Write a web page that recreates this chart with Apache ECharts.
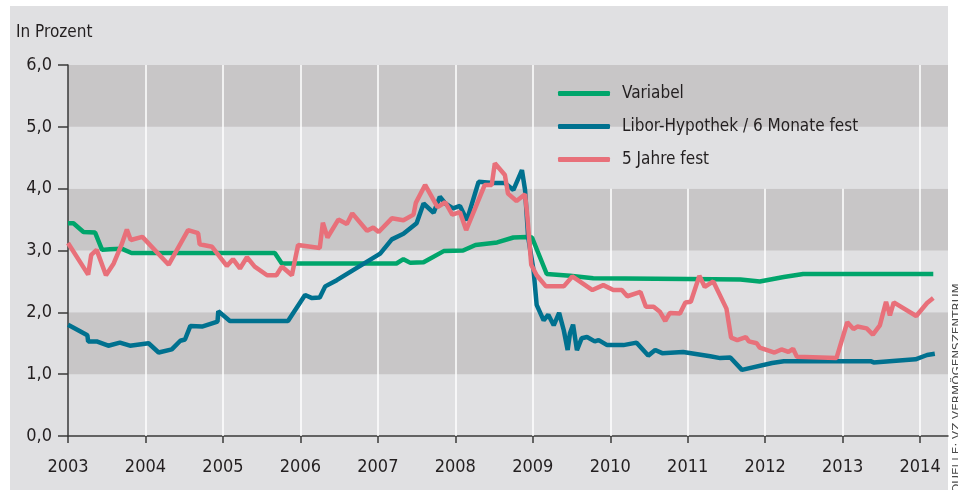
<!DOCTYPE html>
<html>
<head>
<meta charset="utf-8">
<script src="https://cdn.jsdelivr.net/npm/echarts@6/dist/echarts.min.js"></script>
<style>
    html, body { margin: 0; padding: 0; background: #fff; }
    .wrap { position: relative; width: 958px; height: 490px; }
    .panel { position: absolute; left: 10px; top: 6px; width: 938px; height: 484px; background: #e0e0e2; }
    #chart { position: absolute; left: 0; top: 0; width: 958px; height: 490px; }
</style>
</head>
<body>
<div class="wrap">
    <div class="panel"></div>
    <div id="chart"></div>
</div>
<script>
// Jahresachse / Prozentachse
const years = [2003, 2004, 2005, 2006, 2007, 2008, 2009, 2010, 2011, 2012, 2013, 2014]
const yTicks = [0, 1, 2, 3, 4, 5, 6]

// Variabel
const variabelT = [2003.00, 2003.07, 2003.20, 2003.35, 2003.44, 2003.54, 2003.69, 2003.82, 2005.67, 2005.76,
    2007.24, 2007.33, 2007.42, 2007.59, 2007.85, 2008.10, 2008.26, 2008.54, 2008.75, 2008.92,
    2008.99, 2009.18, 2009.48, 2009.78, 2010.99, 2011.68, 2011.93, 2012.24, 2012.49, 2014.17]
const variabelV = [3.44, 3.44, 3.30, 3.29, 3.01, 3.02, 3.03, 2.96, 2.96, 2.79,
    2.79, 2.86, 2.80, 2.81, 2.99, 3.00, 3.09, 3.13, 3.21, 3.22,
    3.21, 2.62, 2.59, 2.55, 2.54, 2.53, 2.50, 2.57, 2.62, 2.62]

// Libor-Hypothek / 6 Monate fest
const liborT = [2003.00, 2003.09, 2003.25, 2003.26, 2003.37, 2003.52, 2003.67, 2003.80, 2004.04, 2004.17,
    2004.34, 2004.45, 2004.51, 2004.58, 2004.73, 2004.93, 2004.94, 2005.09, 2005.84, 2006.06,
    2006.15, 2006.25, 2006.32, 2006.47, 2007.03, 2007.18, 2007.33, 2007.50, 2007.59, 2007.72,
    2007.80, 2007.87, 2007.97, 2008.06, 2008.15, 2008.30, 2008.49, 2008.64, 2008.75, 2008.86,
    2008.90, 2008.94, 2009.01, 2009.05, 2009.14, 2009.20, 2009.27, 2009.34, 2009.40, 2009.45,
    2009.48, 2009.52, 2009.57, 2009.63, 2009.70, 2009.80, 2009.85, 2009.96, 2010.17, 2010.34,
    2010.49, 2010.58, 2010.67, 2010.94, 2011.29, 2011.42, 2011.55, 2011.70, 2012.09, 2012.24,
    2013.36, 2013.40, 2013.94, 2014.09, 2014.19]
const liborV = [1.80, 1.74, 1.63, 1.53, 1.53, 1.46, 1.51, 1.46, 1.50, 1.35,
    1.40, 1.54, 1.56, 1.78, 1.77, 1.85, 2.02, 1.86, 1.86, 2.28,
    2.23, 2.24, 2.42, 2.52, 2.95, 3.18, 3.27, 3.44, 3.76, 3.61,
    3.87, 3.76, 3.68, 3.72, 3.49, 4.11, 4.09, 4.09, 3.98, 4.30,
    3.98, 3.22, 2.68, 2.12, 1.87, 1.96, 1.79, 1.99, 1.71, 1.39,
    1.66, 1.80, 1.39, 1.58, 1.60, 1.53, 1.55, 1.47, 1.47, 1.51,
    1.30, 1.39, 1.34, 1.36, 1.29, 1.26, 1.27, 1.07, 1.18, 1.21,
    1.21, 1.19, 1.24, 1.31, 1.33]

// 5 Jahre fest
const festT = [2003.00, 2003.26, 2003.30, 2003.37, 2003.49, 2003.59, 2003.69, 2003.76, 2003.81, 2003.96,
    2004.30, 2004.55, 2004.68, 2004.70, 2004.86, 2005.05, 2005.13, 2005.22, 2005.31, 2005.41,
    2005.57, 2005.69, 2005.76, 2005.89, 2005.97, 2006.25, 2006.29, 2006.35, 2006.49, 2006.60,
    2006.67, 2006.86, 2006.94, 2007.01, 2007.18, 2007.33, 2007.46, 2007.49, 2007.61, 2007.77,
    2007.87, 2007.96, 2008.06, 2008.14, 2008.38, 2008.47, 2008.51, 2008.64, 2008.68, 2008.79,
    2008.90, 2008.93, 2008.98, 2009.05, 2009.17, 2009.40, 2009.51, 2009.77, 2009.91, 2010.04,
    2010.15, 2010.22, 2010.39, 2010.46, 2010.56, 2010.64, 2010.71, 2010.77, 2010.90, 2010.97,
    2011.04, 2011.15, 2011.22, 2011.33, 2011.50, 2011.56, 2011.64, 2011.75, 2011.79, 2011.89,
    2011.93, 2012.12, 2012.21, 2012.30, 2012.36, 2012.41, 2012.92, 2013.06, 2013.14, 2013.19,
    2013.31, 2013.39, 2013.48, 2013.56, 2013.61, 2013.66, 2013.95, 2014.09, 2014.17]
const festV = [3.12, 2.61, 2.93, 3.01, 2.60, 2.79, 3.09, 3.34, 3.17, 3.22,
    2.77, 3.33, 3.28, 3.10, 3.06, 2.75, 2.86, 2.71, 2.89, 2.74,
    2.60, 2.60, 2.74, 2.60, 3.09, 3.04, 3.45, 3.21, 3.50, 3.43,
    3.60, 3.32, 3.37, 3.30, 3.52, 3.49, 3.58, 3.77, 4.06, 3.70,
    3.78, 3.58, 3.62, 3.33, 4.06, 4.06, 4.41, 4.22, 3.92, 3.80,
    3.91, 3.55, 2.77, 2.60, 2.42, 2.42, 2.58, 2.36, 2.44, 2.36,
    2.36, 2.26, 2.33, 2.09, 2.09, 2.01, 1.86, 1.99, 1.98, 2.16,
    2.17, 2.59, 2.41, 2.50, 2.06, 1.59, 1.55, 1.60, 1.53, 1.50,
    1.43, 1.35, 1.40, 1.36, 1.41, 1.28, 1.26, 1.84, 1.73, 1.77,
    1.74, 1.64, 1.79, 2.17, 1.95, 2.16, 1.94, 2.15, 2.23]

const FONT = '"Liberation Sans Narrow", "DejaVu Sans Condensed", sans-serif'
const TEXT = '#231f20'

function zip(t, v){
    return t.map((x, i) => [x, v[i]])
}

// weisse Jahreslinien, unter der Legende ausgespart
let gridLines = years.slice(1).map(y => {
    let top = (y > 2009 && y < 2014) ? 4 : 6
    return [{coord: [y, top]}, {coord: [y, 0]}]
})

let chart = echarts.init(document.getElementById('chart'), null, {renderer: 'canvas'})
chart.setOption({
    animation: false,
    title: {
        text: 'In Prozent',
        left: 16,
        top: 24,
        padding: 0,
        textStyle: {fontFamily: FONT, fontSize: 17, fontWeight: 'normal', color: TEXT}
    },
    legend: {
        orient: 'vertical',
        left: 558,
        top: 85,
        padding: 0,
        itemGap: 16,
        itemWidth: 52,
        itemHeight: 5,
        icon: 'roundRect',
        data: ['Variabel', 'Libor-Hypothek / 6 Monate fest', '5 Jahre fest'],
        textStyle: {fontFamily: FONT, fontSize: 17, color: TEXT, padding: [0, 0, 0, 7]}
    },
    grid: {
        left: 68,
        top: 65,
        right: 10,
        bottom: 54,
        containLabel: false
    },
    xAxis: {
        type: 'value',
        min: 2003,
        max: 2014.36,
        interval: 1,
        axisLine: {lineStyle: {color: '#3a3a3a', width: 1.5}},
        axisTick: {length: 7, lineStyle: {color: '#3a3a3a', width: 1.5}, customValues: years},
        axisLabel: {
            customValues: years,
            margin: 22,
            fontFamily: FONT,
            fontSize: 18,
            color: TEXT,
            formatter: v => String(v)
        },
        splitLine: {show: false}
    },
    yAxis: {
        type: 'value',
        min: 0,
        max: 6,
        interval: 1,
        axisLine: {show: true, lineStyle: {color: '#3a3a3a', width: 1.5}},
        axisTick: {show: true, length: 10, lineStyle: {color: '#3a3a3a', width: 1.5}},
        axisLabel: {
            margin: 16,
            fontFamily: FONT,
            fontSize: 18,
            color: TEXT,
            formatter: v => v.toFixed(1).replace('.', ',')
        },
        splitLine: {show: false},
        splitArea: {show: true, areaStyle: {color: ['#e0e0e2', '#c8c6c7']}}
    },
    graphic: [{
        type: 'text',
        x: 957,
        y: 493,
        rotation: Math.PI / 2,
        scaleX: 1.2,
        style: {
            text: 'QUELLE: VZ VERMÖGENSZENTRUM',
            font: '11px ' + FONT,
            fill: '#4a4a4a',
            align: 'left',
            verticalAlign: 'middle'
        }
    }],
    series: [
        {
            name: 'grid',
            type: 'line',
            data: [],
            silent: true,
            markLine: {
                z: 1,
                silent: true,
                symbol: ['none', 'none'],
                label: {show: false},
                lineStyle: {color: '#ffffff', width: 1.5, type: 'solid'},
                data: gridLines
            }
        },
        {
            name: 'Variabel',
            type: 'line',
            data: zip(variabelT, variabelV),
            showSymbol: false,
            symbol: 'none',
            color: '#00a56b',
            lineStyle: {width: 4.5, color: '#00a56b'}
        },
        {
            name: 'Libor-Hypothek / 6 Monate fest',
            type: 'line',
            data: zip(liborT, liborV),
            showSymbol: false,
            symbol: 'none',
            color: '#00718f',
            lineStyle: {width: 4.5, color: '#00718f'}
        },
        {
            name: '5 Jahre fest',
            type: 'line',
            data: zip(festT, festV),
            showSymbol: false,
            symbol: 'none',
            color: '#e8707a',
            lineStyle: {width: 4.5, color: '#e8707a'}
        }
    ]
})
</script>
</body>
</html>
